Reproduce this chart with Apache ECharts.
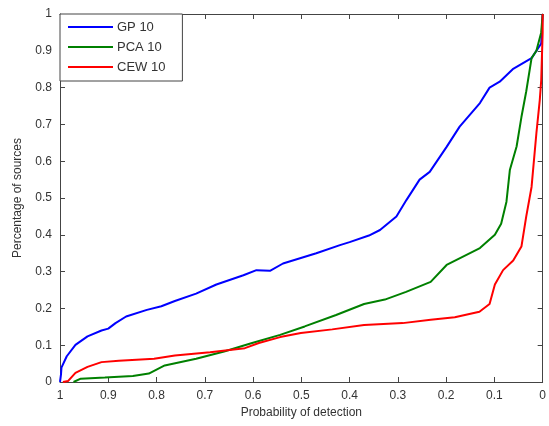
<!DOCTYPE html>
<html>
<head>
<meta charset="utf-8">
<script src="https://cdn.jsdelivr.net/npm/echarts@6/dist/echarts.min.js"></script>
<style>
html,body{margin:0;padding:0;background:#fff;}
#chart{width:549px;height:426px;}
</style>
</head>
<body>
<div id="chart"></div>
<script>
// Data: [probability of detection, percentage of sources]
const gp10 = [
  [1.0,0.0],[0.998,0.02],[0.997,0.039],[0.986,0.07],[0.968,0.101],[0.943,0.124],[0.914,0.14],
  [0.9,0.145],[0.885,0.16],[0.863,0.178],[0.82,0.196],[0.79,0.206],[0.762,0.22],[0.718,0.24],
  [0.676,0.265],[0.62,0.29],[0.593,0.304],[0.565,0.302],[0.538,0.322],[0.469,0.35],
  [0.42,0.372],[0.4,0.38],[0.36,0.398],[0.337,0.413],[0.303,0.45],[0.282,0.495],[0.255,0.55],
  [0.234,0.571],[0.199,0.639],[0.172,0.694],[0.13,0.758],[0.11,0.80],[0.089,0.816],[0.062,0.85],
  [0.023,0.88],[0.003,0.92],[0.0,1.0]
];
const pca10 = [
  [0.972,0.0],[0.957,0.009],[0.907,0.012],[0.849,0.016],[0.816,0.023],[0.783,0.045],[0.718,0.063],
  [0.66,0.083],[0.602,0.106],[0.544,0.128],[0.493,0.151],[0.428,0.182],[0.37,0.212],[0.327,0.224],
  [0.283,0.245],[0.232,0.272],[0.199,0.318],[0.13,0.364],[0.099,0.40],[0.086,0.43],[0.075,0.49],
  [0.068,0.576],[0.054,0.64],[0.044,0.72],[0.034,0.79],[0.023,0.88],[0.013,0.90],[0.003,0.95],[0.0,1.0]
];
const cew10 = [
  [0.994,0.0],[0.983,0.003],[0.968,0.025],[0.943,0.041],[0.914,0.054],[0.878,0.058],[0.805,0.063],
  [0.762,0.072],[0.689,0.081],[0.617,0.092],[0.588,0.106],[0.544,0.122],[0.501,0.133],[0.436,0.143],
  [0.37,0.155],[0.29,0.16],[0.232,0.169],[0.182,0.176],[0.131,0.191],[0.11,0.212],[0.099,0.265],
  [0.082,0.304],[0.061,0.33],[0.044,0.368],[0.034,0.45],[0.023,0.53],[0.013,0.676],[0.006,0.766],
  [0.003,0.82],[0.0,0.95],[0.0,1.0]
];
const seriesNames = ['GP 10','PCA 10','CEW 10'];
const seriesColors = ['#0000ff','#008000','#ff0000'];
const xTickLabels = ['0','0.1','0.2','0.3','0.4','0.5','0.6','0.7','0.8','0.9','1'];
const yTickLabels = ['0','0.1','0.2','0.3','0.4','0.5','0.6','0.7','0.8','0.9','1'];
const xTitle = 'Probability of detection';
const yTitle = 'Percentage of sources';

const FONT = 'Liberation Sans, Arial, sans-serif';
const AX = '#444';
const TXT = '#333';
const idx = v => Math.round(v * 10);

const chart = echarts.init(document.getElementById('chart'), null, {renderer: 'canvas'});
const axisCommon = {
  type: 'value', min: 0, max: 1, interval: 0.1,
  axisLine: {show: true, onZero: false, lineStyle: {color: AX, width: 1}},
  axisTick: {show: true, inside: true, length: 5, lineStyle: {color: AX}},
  splitLine: {show: false}
};
chart.setOption({
  animation: false,
  backgroundColor: '#fff',
  grid: {left: 60, right: 6, top: 14, bottom: 44, containLabel: false},
  legend: {
    orient: 'vertical', left: 60, top: 14,
    data: seriesNames.map(n => ({name: n, icon: 'rect'})),
    backgroundColor: '#fff', borderColor: AX, borderWidth: 1,
    padding: [6, 17, 7, 8], itemGap: 6, itemWidth: 45, itemHeight: 2,
    textStyle: {fontFamily: FONT, fontSize: 13, color: TXT, lineHeight: 14, padding: [0, 0, 0, -1]}
  },
  xAxis: [
    Object.assign({}, axisCommon, {
      position: 'bottom', inverse: true,
      name: xTitle, nameLocation: 'middle', nameGap: 24,
      nameTextStyle: {fontFamily: FONT, fontSize: 12, color: TXT},
      axisLabel: {fontFamily: FONT, fontSize: 12, color: TXT, margin: 8,
        formatter: v => xTickLabels[idx(v)]}
    }),
    Object.assign({}, axisCommon, {
      position: 'top', inverse: true, axisLabel: {show: false}
    })
  ],
  yAxis: [
    Object.assign({}, axisCommon, {
      position: 'left',
      name: yTitle, nameLocation: 'middle', nameGap: 36,
      nameTextStyle: {fontFamily: FONT, fontSize: 12, color: TXT},
      axisLabel: {fontFamily: FONT, fontSize: 12, color: TXT, margin: 8,
        formatter: v => yTickLabels[idx(v)]}
    }),
    Object.assign({}, axisCommon, {
      position: 'right', axisLabel: {show: false}
    })
  ],
  series: [gp10, pca10, cew10].map((d, i) => ({
    name: seriesNames[i], type: 'line', data: d,
    xAxisIndex: 0, yAxisIndex: 0,
    symbol: 'none', smooth: false,
    lineStyle: {color: seriesColors[i], width: 2},
    itemStyle: {color: seriesColors[i]}
  }))
});
</script>
</body>
</html>
